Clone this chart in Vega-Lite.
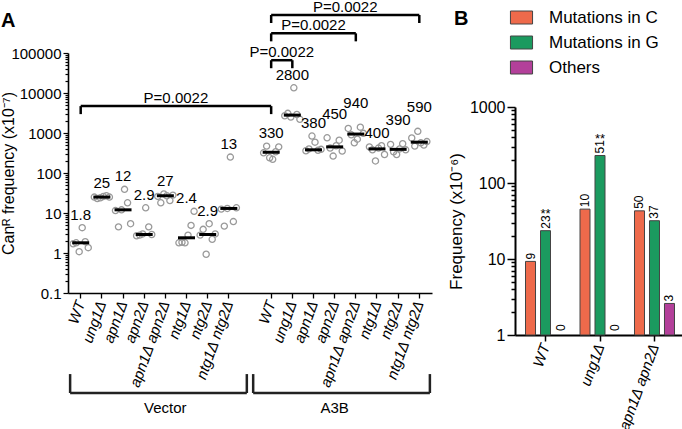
{
  "$schema": "https://vega.github.io/schema/vega-lite/v6.json",
  "padding": 0,
  "spacing": 14,
  "resolve": {"scale": {"xOffset": "independent", "color": "independent"}, "legend": {"color": "independent"}},
  "datasets": {
    "isolates": [
      {"key": "V|WT", "rep": 1, "value": 1.7}, {"key": "V|WT", "rep": 2, "value": 1.8}, {"key": "V|WT", "rep": 3, "value": 1.08},
      {"key": "V|WT", "rep": 4, "value": 4.3}, {"key": "V|WT", "rep": 5, "value": 1.92}, {"key": "V|WT", "rep": 6, "value": 1.36},
      {"key": "V|ung1Δ", "rep": 1, "value": 25}, {"key": "V|ung1Δ", "rep": 2, "value": 23}, {"key": "V|ung1Δ", "rep": 3, "value": 24},
      {"key": "V|ung1Δ", "rep": 4, "value": 26}, {"key": "V|ung1Δ", "rep": 5, "value": 27}, {"key": "V|ung1Δ", "rep": 6, "value": 25},
      {"key": "V|apn1Δ", "rep": 1, "value": 11.5}, {"key": "V|apn1Δ", "rep": 2, "value": 4.5}, {"key": "V|apn1Δ", "rep": 3, "value": 12},
      {"key": "V|apn1Δ", "rep": 4, "value": 39}, {"key": "V|apn1Δ", "rep": 5, "value": 18}, {"key": "V|apn1Δ", "rep": 6, "value": 5.4},
      {"key": "V|apn2Δ", "rep": 1, "value": 2.7}, {"key": "V|apn2Δ", "rep": 2, "value": 2.8}, {"key": "V|apn2Δ", "rep": 3, "value": 3.0},
      {"key": "V|apn2Δ", "rep": 4, "value": 13.5}, {"key": "V|apn2Δ", "rep": 5, "value": 4.5}, {"key": "V|apn2Δ", "rep": 6, "value": 2.9},
      {"key": "V|apn1Δ apn2Δ", "rep": 1, "value": 26}, {"key": "V|apn1Δ apn2Δ", "rep": 2, "value": 18}, {"key": "V|apn1Δ apn2Δ", "rep": 3, "value": 30},
      {"key": "V|apn1Δ apn2Δ", "rep": 4, "value": 27}, {"key": "V|apn1Δ apn2Δ", "rep": 5, "value": 20.5}, {"key": "V|apn1Δ apn2Δ", "rep": 6, "value": 28},
      {"key": "V|ntg1Δ", "rep": 1, "value": 1.8}, {"key": "V|ntg1Δ", "rep": 2, "value": 1.85}, {"key": "V|ntg1Δ", "rep": 3, "value": 1.8},
      {"key": "V|ntg1Δ", "rep": 4, "value": 2.8}, {"key": "V|ntg1Δ", "rep": 5, "value": 4.9}, {"key": "V|ntg1Δ", "rep": 6, "value": 11},
      {"key": "V|ntg2Δ", "rep": 1, "value": 2.8}, {"key": "V|ntg2Δ", "rep": 2, "value": 3.9}, {"key": "V|ntg2Δ", "rep": 3, "value": 0.93},
      {"key": "V|ntg2Δ", "rep": 4, "value": 5.4}, {"key": "V|ntg2Δ", "rep": 5, "value": 2.2}, {"key": "V|ntg2Δ", "rep": 6, "value": 3.0},
      {"key": "V|ntg1Δ ntg2Δ", "rep": 1, "value": 12.5}, {"key": "V|ntg1Δ ntg2Δ", "rep": 2, "value": 4.7}, {"key": "V|ntg1Δ ntg2Δ", "rep": 3, "value": 13},
      {"key": "V|ntg1Δ ntg2Δ", "rep": 4, "value": 250}, {"key": "V|ntg1Δ ntg2Δ", "rep": 5, "value": 6.1}, {"key": "V|ntg1Δ ntg2Δ", "rep": 6, "value": 13.5},
      {"key": "A|WT", "rep": 1, "value": 320}, {"key": "A|WT", "rep": 2, "value": 470}, {"key": "A|WT", "rep": 3, "value": 240},
      {"key": "A|WT", "rep": 4, "value": 220}, {"key": "A|WT", "rep": 5, "value": 340}, {"key": "A|WT", "rep": 6, "value": 450},
      {"key": "A|ung1Δ", "rep": 1, "value": 2700}, {"key": "A|ung1Δ", "rep": 2, "value": 3100}, {"key": "A|ung1Δ", "rep": 3, "value": 2500},
      {"key": "A|ung1Δ", "rep": 4, "value": 13500}, {"key": "A|ung1Δ", "rep": 5, "value": 2900}, {"key": "A|ung1Δ", "rep": 6, "value": 2200},
      {"key": "A|apn1Δ", "rep": 1, "value": 360}, {"key": "A|apn1Δ", "rep": 2, "value": 400}, {"key": "A|apn1Δ", "rep": 3, "value": 840},
      {"key": "A|apn1Δ", "rep": 4, "value": 590}, {"key": "A|apn1Δ", "rep": 5, "value": 370}, {"key": "A|apn1Δ", "rep": 6, "value": 390},
      {"key": "A|apn2Δ", "rep": 1, "value": 760}, {"key": "A|apn2Δ", "rep": 2, "value": 420}, {"key": "A|apn2Δ", "rep": 3, "value": 265},
      {"key": "A|apn2Δ", "rep": 4, "value": 480}, {"key": "A|apn2Δ", "rep": 5, "value": 660}, {"key": "A|apn2Δ", "rep": 6, "value": 355},
      {"key": "A|apn1Δ apn2Δ", "rep": 1, "value": 1300}, {"key": "A|apn1Δ apn2Δ", "rep": 2, "value": 900}, {"key": "A|apn1Δ apn2Δ", "rep": 3, "value": 570},
      {"key": "A|apn1Δ apn2Δ", "rep": 4, "value": 700}, {"key": "A|apn1Δ apn2Δ", "rep": 5, "value": 1400}, {"key": "A|apn1Δ apn2Δ", "rep": 6, "value": 980},
      {"key": "A|ntg1Δ", "rep": 1, "value": 450}, {"key": "A|ntg1Δ", "rep": 2, "value": 380}, {"key": "A|ntg1Δ", "rep": 3, "value": 200},
      {"key": "A|ntg1Δ", "rep": 4, "value": 420}, {"key": "A|ntg1Δ", "rep": 5, "value": 480}, {"key": "A|ntg1Δ", "rep": 6, "value": 290},
      {"key": "A|ntg2Δ", "rep": 1, "value": 520}, {"key": "A|ntg2Δ", "rep": 2, "value": 340}, {"key": "A|ntg2Δ", "rep": 3, "value": 290},
      {"key": "A|ntg2Δ", "rep": 4, "value": 400}, {"key": "A|ntg2Δ", "rep": 5, "value": 540}, {"key": "A|ntg2Δ", "rep": 6, "value": 380},
      {"key": "A|ntg1Δ ntg2Δ", "rep": 1, "value": 750}, {"key": "A|ntg1Δ ntg2Δ", "rep": 2, "value": 470}, {"key": "A|ntg1Δ ntg2Δ", "rep": 3, "value": 1100},
      {"key": "A|ntg1Δ ntg2Δ", "rep": 4, "value": 570}, {"key": "A|ntg1Δ ntg2Δ", "rep": 5, "value": 500}, {"key": "A|ntg1Δ ntg2Δ", "rep": 6, "value": 610}
    ],
    "medians": [
      {"key": "V|WT", "median": 1.8}, {"key": "V|ung1Δ", "median": 25}, {"key": "V|apn1Δ", "median": 12}, {"key": "V|apn2Δ", "median": 2.9},
      {"key": "V|apn1Δ apn2Δ", "median": 27}, {"key": "V|ntg1Δ", "median": 2.4}, {"key": "V|ntg2Δ", "median": 2.9}, {"key": "V|ntg1Δ ntg2Δ", "median": 13},
      {"key": "A|WT", "median": 330}, {"key": "A|ung1Δ", "median": 2800}, {"key": "A|apn1Δ", "median": 380}, {"key": "A|apn2Δ", "median": 450},
      {"key": "A|apn1Δ apn2Δ", "median": 940}, {"key": "A|ntg1Δ", "median": 400}, {"key": "A|ntg2Δ", "median": 390}, {"key": "A|ntg1Δ ntg2Δ", "median": 590}
    ],
    "pvalues": [
      {"id": 1, "lo": "V|WT", "hi": "A|WT", "top": 4700, "anchor": "V|apn1Δ apn2Δ", "p": "P=0.0022"},
      {"id": 2, "lo": "A|WT", "hi": "A|ung1Δ", "top": 66000, "anchor": "A|WT", "p": "P=0.0022"},
      {"id": 3, "lo": "A|WT", "hi": "A|apn1Δ apn2Δ", "top": 310000, "anchor": "A|apn1Δ", "p": "P=0.0022"},
      {"id": 4, "lo": "A|WT", "hi": "A|ntg1Δ ntg2Δ", "top": 890000, "anchor": "A|apn2Δ", "p": "P=0.0022"}
    ],
    "groups": [
      {"label": "Vector", "at": "V|apn1Δ apn2Δ", "lo": "V|WT", "hi": "gap"},
      {"label": "A3B", "at": "A|apn2Δ", "lo": "gap", "hi": "A|ntg1Δ ntg2Δ"}
    ],
    "spectrum": [
      {"strain": "WT", "type": "Mutations in C", "freq": 9.3, "n": 9, "sig": ""},
      {"strain": "WT", "type": "Mutations in G", "freq": 23.6, "n": 23, "sig": "**"},
      {"strain": "WT", "type": "Others", "freq": 0, "n": 0, "sig": ""},
      {"strain": "ung1Δ", "type": "Mutations in C", "freq": 45.3, "n": 10, "sig": ""},
      {"strain": "ung1Δ", "type": "Mutations in G", "freq": 230, "n": 51, "sig": "**"},
      {"strain": "ung1Δ", "type": "Others", "freq": 0, "n": 0, "sig": ""},
      {"strain": "apn1Δ apn2Δ", "type": "Mutations in C", "freq": 43, "n": 50, "sig": ""},
      {"strain": "apn1Δ apn2Δ", "type": "Mutations in G", "freq": 31.9, "n": 37, "sig": ""},
      {"strain": "apn1Δ apn2Δ", "type": "Others", "freq": 2.6, "n": 3, "sig": ""}
    ]
  },
  "hconcat": [
    {
      "width": 364,
      "height": 240,
      "title": {"text": "A", "anchor": "start", "frame": "bounds", "fontSize": 20, "fontWeight": "bold", "offset": 0, "dy": 31},
      "layer": [
        {
          "data": {"name": "isolates"},
          "mark": {"type": "point", "shape": "circle", "filled": false, "color": "#9a9a9a", "strokeWidth": 1.3, "size": 38, "opacity": 1},
          "encoding": {
            "x": {
              "field": "key", "type": "nominal",
              "scale": {"type": "band", "paddingInner": 0, "paddingOuter": 0.1,
                "domain": ["V|WT", "V|ung1Δ", "V|apn1Δ", "V|apn2Δ", "V|apn1Δ apn2Δ", "V|ntg1Δ", "V|ntg2Δ", "V|ntg1Δ ntg2Δ", "gap", "A|WT", "A|ung1Δ", "A|apn1Δ", "A|apn2Δ", "A|apn1Δ apn2Δ", "A|ntg1Δ", "A|ntg2Δ", "A|ntg1Δ ntg2Δ"]},
              "axis": {
                "values": ["V|WT", "V|ung1Δ", "V|apn1Δ", "V|apn2Δ", "V|apn1Δ apn2Δ", "V|ntg1Δ", "V|ntg2Δ", "V|ntg1Δ ntg2Δ", "A|WT", "A|ung1Δ", "A|apn1Δ", "A|apn2Δ", "A|apn1Δ apn2Δ", "A|ntg1Δ", "A|ntg2Δ", "A|ntg1Δ ntg2Δ"],
                "labelExpr": "split(datum.label, '|')[1]",
                "labelAngle": -70, "labelAlign": "right", "labelBaseline": "middle",
                "labelFontStyle": "italic", "labelFontSize": 15, "labelPadding": 3,
                "title": null, "tickSize": 5, "tickWidth": 1.3, "domainWidth": 1.6
              }
            },
            "xOffset": {"field": "rep", "type": "ordinal", "scale": {"paddingOuter": 1}},
            "y": {
              "field": "value", "type": "quantitative",
              "scale": {"type": "log", "domain": [0.1, 100000], "nice": false},
              "axis": {
                "title": "Canᴿ frequency (x10⁻⁷)", "titleFontSize": 16, "titlePadding": -6,
                "values": [0.1, 0.2, 0.3, 0.4, 0.5, 0.6, 0.7, 0.8, 0.9, 1, 2, 3, 4, 5, 6, 7, 8, 9, 10, 20, 30, 40, 50, 60, 70, 80, 90, 100, 200, 300, 400, 500, 600, 700, 800, 900, 1000, 2000, 3000, 4000, 5000, 6000, 7000, 8000, 9000, 10000, 20000, 30000, 40000, 50000, 60000, 70000, 80000, 90000, 100000],
                "labelExpr": "indexof([0.1, 1, 10, 100, 1000, 10000, 100000], datum.value) < 0 ? '' : (datum.value < 1 ? '0.1' : format(datum.value, 'd'))",
                "labelFontSize": 15, "labelOverlap": false, "labelPadding": 2,
                "tickSize": {"condition": {"test": "indexof([0.1, 1, 10, 100, 1000, 10000, 100000], datum.value) >= 0", "value": 5}, "value": 3},
                "tickWidth": 1.2, "domainWidth": 1.6
              }
            }
          }
        },
        {
          "data": {"name": "medians"},
          "mark": {"type": "tick", "orient": "horizontal", "size": 17, "thickness": 3, "color": "black", "opacity": 1},
          "encoding": {
            "x": {"field": "key", "type": "nominal"},
            "y": {"field": "median", "type": "quantitative"}
          }
        },
        {
          "data": {"name": "isolates"},
          "transform": [
            {"aggregate": [{"op": "max", "field": "value", "as": "top"}], "groupby": ["key"]},
            {"filter": {"field": "key", "oneOf": ["A|apn2Δ", "A|apn1Δ apn2Δ", "A|ntg2Δ", "A|ntg1Δ ntg2Δ"]}},
            {"lookup": "key", "from": {"data": {"name": "medians"}, "key": "key", "fields": ["median"]}}
          ],
          "mark": {"type": "text", "fontSize": 15, "baseline": "middle", "dy": -24, "color": "black"},
          "encoding": {
            "x": {"field": "key", "type": "nominal"},
            "y": {"field": "top", "type": "quantitative"},
            "text": {"field": "median", "type": "quantitative", "format": "~g"}
          }
        },
        {
          "data": {"name": "isolates"},
          "transform": [
            {"aggregate": [{"op": "max", "field": "value", "as": "top"}], "groupby": ["key"]},
            {"filter": {"not": {"field": "key", "oneOf": ["A|apn2Δ", "A|apn1Δ apn2Δ", "A|ntg2Δ", "A|ntg1Δ ntg2Δ"]}}},
            {"lookup": "key", "from": {"data": {"name": "medians"}, "key": "key", "fields": ["median"]}}
          ],
          "mark": {"type": "text", "fontSize": 15, "baseline": "middle", "dy": -13, "color": "black"},
          "encoding": {
            "x": {"field": "key", "type": "nominal"},
            "y": {"field": "top", "type": "quantitative"},
            "text": {"field": "median", "type": "quantitative", "format": "~g"}
          }
        },
        {
          "data": {"name": "pvalues"},
          "mark": {"type": "rule", "strokeWidth": 2.5, "color": "black"},
          "encoding": {
            "x": {"field": "lo", "type": "nominal"},
            "x2": {"field": "hi"},
            "y": {"field": "top", "type": "quantitative"}
          }
        },
        {
          "data": {"name": "pvalues"},
          "mark": {"type": "tick", "orient": "vertical", "size": 8, "thickness": 2.5, "yOffset": 4, "color": "black", "opacity": 1},
          "encoding": {
            "x": {"field": "lo", "type": "nominal"},
            "y": {"field": "top", "type": "quantitative"}
          }
        },
        {
          "data": {"name": "pvalues"},
          "mark": {"type": "tick", "orient": "vertical", "size": 8, "thickness": 2.5, "yOffset": 4, "color": "black", "opacity": 1},
          "encoding": {
            "x": {"field": "hi", "type": "nominal"},
            "y": {"field": "top", "type": "quantitative"}
          }
        },
        {
          "data": {"name": "pvalues"},
          "transform": [{"filter": "datum.id != 3"}],
          "mark": {"type": "text", "fontSize": 15, "baseline": "bottom", "dy": 0, "color": "black"},
          "encoding": {
            "x": {"field": "anchor", "type": "nominal", "bandPosition": 1},
            "y": {"field": "top", "type": "quantitative"},
            "text": {"field": "p"}
          }
        },
        {
          "data": {"name": "pvalues"},
          "transform": [{"filter": "datum.id == 3"}],
          "mark": {"type": "text", "fontSize": 15, "baseline": "bottom", "dy": 0, "color": "black"},
          "encoding": {
            "x": {"field": "anchor", "type": "nominal"},
            "y": {"field": "top", "type": "quantitative"},
            "text": {"field": "p"}
          }
        },
        {
          "data": {"name": "groups"},
          "transform": [{"filter": "datum.label == 'Vector'"}],
          "mark": {"type": "rule", "strokeWidth": 2.5, "color": "#222"},
          "encoding": {
            "x": {"field": "lo", "type": "nominal", "bandPosition": 0},
            "x2": {"field": "hi", "bandPosition": 0.35},
            "y": {"datum": 0.000316}
          }
        },
        {
          "data": {"name": "groups"},
          "transform": [{"filter": "datum.label == 'A3B'"}],
          "mark": {"type": "rule", "strokeWidth": 2.5, "color": "#222"},
          "encoding": {
            "x": {"field": "lo", "type": "nominal", "bandPosition": 0.65},
            "x2": {"field": "hi", "bandPosition": 1},
            "y": {"datum": 0.000316}
          }
        },
        {
          "data": {"values": [{}]},
          "mark": {"type": "rule", "strokeWidth": 2.5, "color": "#222"},
          "encoding": {"x": {"datum": "V|WT", "bandPosition": 0}, "y": {"datum": 0.000316}, "y2": {"datum": 0.00094}}
        },
        {
          "data": {"values": [{}]},
          "mark": {"type": "rule", "strokeWidth": 2.5, "color": "#222"},
          "encoding": {"x": {"datum": "gap", "bandPosition": 0.35}, "y": {"datum": 0.000316}, "y2": {"datum": 0.00094}}
        },
        {
          "data": {"values": [{}]},
          "mark": {"type": "rule", "strokeWidth": 2.5, "color": "#222"},
          "encoding": {"x": {"datum": "gap", "bandPosition": 0.65}, "y": {"datum": 0.000316}, "y2": {"datum": 0.00094}}
        },
        {
          "data": {"values": [{}]},
          "mark": {"type": "rule", "strokeWidth": 2.5, "color": "#222"},
          "encoding": {"x": {"datum": "A|ntg1Δ ntg2Δ", "bandPosition": 1}, "y": {"datum": 0.000316}, "y2": {"datum": 0.00094}}
        },
        {
          "data": {"name": "groups"},
          "mark": {"type": "text", "fontSize": 15, "baseline": "top", "dy": 8, "color": "black"},
          "encoding": {
            "x": {"field": "at", "type": "nominal"},
            "y": {"datum": 0.000316},
            "text": {"field": "label"}
          }
        }
      ]
    },
    {
      "width": 170,
      "height": 282,
      "data": {"name": "spectrum"},
      "layer": [
        {
          "transform": [{"filter": "datum.freq > 0"}],
          "mark": {"type": "bar", "stroke": "#444", "strokeWidth": 1},
          "encoding": {
            "x": {
              "field": "strain", "type": "nominal",
              "scale": {"type": "band", "domain": ["WT", "ung1Δ", "apn1Δ apn2Δ"], "paddingInner": 0.174, "paddingOuter": 0.147},
              "axis": {"title": null, "labelAngle": -70, "labelAlign": "right", "labelBaseline": "middle", "labelFontStyle": "italic", "labelFontSize": 15, "labelPadding": 3, "tickSize": 6, "tickWidth": 1.5, "domainWidth": 2}
            },
            "xOffset": {"field": "type", "type": "nominal", "scale": {"domain": ["Mutations in C", "Mutations in G", "Others"], "paddingInner": 0.333, "paddingOuter": 0.167}},
            "y": {
              "field": "freq", "type": "quantitative",
              "scale": {"type": "log", "domain": [1, 1000], "nice": false, "range": [282, 54]},
              "axis": {
                "title": "Frequency (x10⁻⁶)", "titleFontSize": 17, "titlePadding": 4,
                "values": [1, 2, 3, 4, 5, 6, 7, 8, 9, 10, 20, 30, 40, 50, 60, 70, 80, 90, 100, 200, 300, 400, 500, 600, 700, 800, 900, 1000],
                "labelExpr": "indexof([1, 10, 100, 1000], datum.value) < 0 ? '' : format(datum.value, 'd')",
                "labelFontSize": 16, "labelOverlap": false, "labelPadding": 2,
                "tickSize": {"condition": {"test": "indexof([1, 10, 100, 1000], datum.value) >= 0", "value": 8}, "value": 4},
                "tickWidth": 1.5, "domainWidth": 2
              }
            },
            "y2": {"datum": 1},
            "color": {
              "field": "type", "type": "nominal",
              "scale": {"domain": ["Mutations in C", "Mutations in G", "Others"], "range": ["#ee6a4b", "#1b9a5f", "#b3409a"]},
              "legend": {
                "orient": "none", "legendX": -61, "legendY": -44, "direction": "vertical",
                "title": "B", "titleOrient": "left", "titleFontSize": 20, "titleFontWeight": "bold", "titlePadding": 44, "titleBaseline": "top", "titleAnchor": "start",
                "symbolType": "M-1.7,-1H1.7V1H-1.7Z", "symbolSize": 169, "symbolStrokeColor": "#444", "symbolStrokeWidth": 1, "symbolOpacity": 1,
                "labelFontSize": 17, "labelOffset": 19, "rowPadding": 7
              }
            }
          }
        },
        {
          "transform": [{"filter": "datum.freq > 0"}],
          "mark": {"type": "text", "angle": -90, "align": "left", "baseline": "middle", "dx": 2, "fontSize": 12, "color": "black"},
          "encoding": {
            "x": {"field": "strain", "type": "nominal"},
            "xOffset": {"field": "type", "type": "nominal"},
            "y": {"field": "freq", "type": "quantitative"},
            "text": {"field": "n"}
          }
        },
        {
          "transform": [{"filter": "datum.freq == 0"}],
          "mark": {"type": "text", "angle": -90, "align": "left", "baseline": "middle", "dx": 4, "fontSize": 12, "color": "black"},
          "encoding": {
            "x": {"field": "strain", "type": "nominal"},
            "xOffset": {"field": "type", "type": "nominal"},
            "y": {"datum": 1},
            "text": {"field": "n"}
          }
        },
        {
          "transform": [{"filter": "datum.sig != ''"}],
          "mark": {"type": "text", "baseline": "alphabetic", "dy": -13, "fontSize": 13, "color": "black"},
          "encoding": {
            "x": {"field": "strain", "type": "nominal"},
            "xOffset": {"field": "type", "type": "nominal"},
            "y": {"field": "freq", "type": "quantitative"},
            "text": {"field": "sig"}
          }
        }
      ]
    }
  ],
  "config": {
    "view": {"stroke": null},
    "font": "Liberation Sans",
    "axis": {"domainColor": "black", "tickColor": "black", "labelColor": "black", "titleColor": "black", "grid": false, "titleFontWeight": "normal"},
    "legend": {"labelColor": "black", "titleColor": "black"}
  }
}
